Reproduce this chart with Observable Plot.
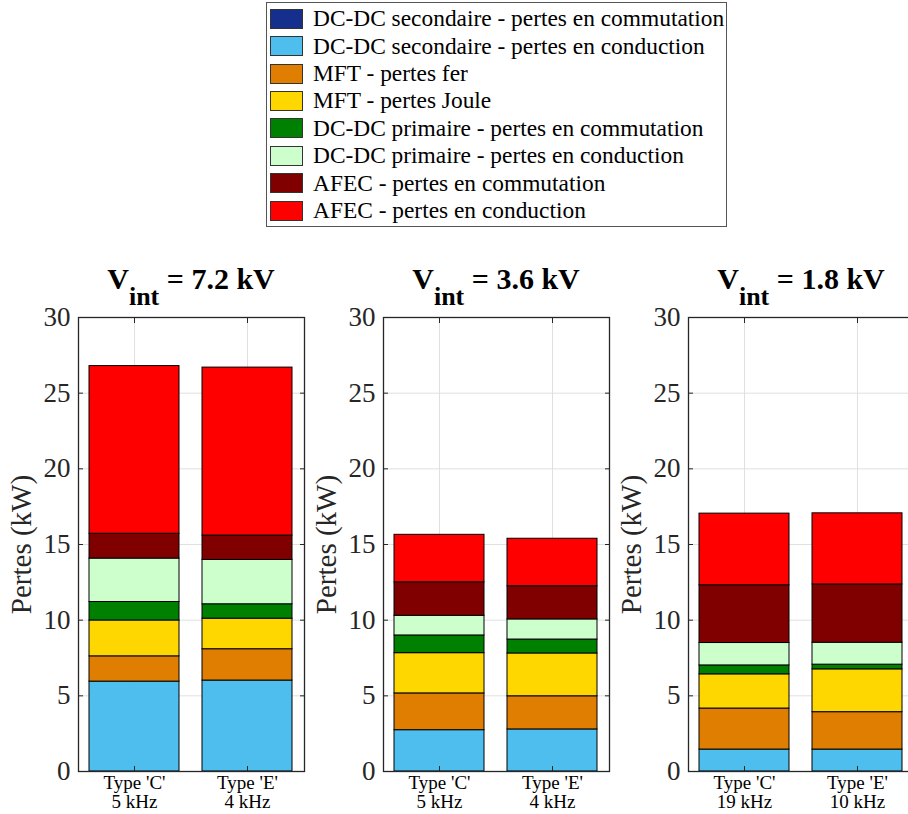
<!DOCTYPE html>
<html><head><meta charset="utf-8">
<script src="https://cdn.jsdelivr.net/npm/d3@7"></script>
<script src="https://cdn.jsdelivr.net/npm/@observablehq/plot@0.6"></script>
<style>
html,body{margin:0;padding:0;background:#fff;width:908px;height:814px;overflow:hidden;}
#root{position:relative;width:908px;height:814px;overflow:hidden;font-family:"Liberation Serif","Times New Roman",Times,"Nimbus Roman","DejaVu Serif",serif;}
.panel{position:absolute;top:300px;}
.title{position:absolute;top:264px;width:300px;text-align:center;font-weight:bold;font-size:30px;line-height:30px;color:#000;white-space:nowrap;}
.title sub{font-size:26px;vertical-align:-16px;line-height:0;}
#legend{position:absolute;left:266px;top:2px;width:459px;height:223px;border:1px solid #555;background:#fff;}
.sw{position:absolute;left:3px;width:31px;height:18px;border:1px solid #333;}
.lt{position:absolute;left:46px;font-size:23.4px;line-height:27px;height:27px;color:#000;white-space:nowrap;}
</style></head>
<body><div id="root"><div id="legend"></div></div>
<script>
const series = [
  "DC-DC secondaire - pertes en commutation",
  "DC-DC secondaire - pertes en conduction",
  "MFT - pertes fer",
  "MFT - pertes Joule",
  "DC-DC primaire - pertes en commutation",
  "DC-DC primaire - pertes en conduction",
  "AFEC - pertes en commutation",
  "AFEC - pertes en conduction"
];
const colors = ["#14308c","#4dbeee","#df7e00","#ffd700","#008000","#ccffcc","#800000","#ff0000"];
const titles = ["7.2 kV","3.6 kV","1.8 kV"];
const categories = [
  ["Type 'C'\n5 kHz","Type 'E'\n4 kHz"],
  ["Type 'C'\n5 kHz","Type 'E'\n4 kHz"],
  ["Type 'C'\n19 kHz","Type 'E'\n10 kHz"]
];
// values per series, order: [7.2C, 7.2E, 3.6C, 3.6E, 1.8C, 1.8E] (kW)
const secComm  = [0, 0, 0, 0, 0, 0];
const secCond  = [5.94, 6.01, 2.73, 2.78, 1.45, 1.45];
const mftFer   = [1.67, 2.07, 2.43, 2.19, 2.71, 2.47];
const mftJoule = [2.37, 2.02, 2.66, 2.83, 2.26, 2.83];
const primComm = [1.22, 0.95, 1.17, 0.92, 0.59, 0.31];
const primCond = [2.87, 2.93, 1.30, 1.33, 1.48, 1.45];
const afecComm = [1.64, 1.61, 2.21, 2.19, 3.82, 3.85];
const afecCond = [11.08, 11.10, 3.14, 3.14, 4.73, 4.70];
const values = [secComm, secCond, mftFer, mftJoule, primComm, primCond, afecComm, afecCond];
const yTicks = [0, 5, 10, 15, 20, 25, 30];
const yLabel = "Pertes (kW)";

const FONT = "'Liberation Serif', 'Times New Roman', Times, 'Nimbus Roman', 'DejaVu Serif', serif";
const root = document.getElementById("root");
const legend = document.getElementById("legend");
series.forEach((s, i) => {
  const c = 15.7 + 27.4 * i;
  const sw = document.createElement("div");
  sw.className = "sw"; sw.style.top = (c - 10) + "px"; sw.style.background = colors[i];
  const t = document.createElement("div");
  t.className = "lt"; t.style.top = (c - 13.5) + "px"; t.textContent = s;
  legend.appendChild(sw); legend.appendChild(t);
});

function panel(pi) {
  const cats = categories[pi];
  const data = [];
  for (let s = 0; s < series.length; s++)
    for (let b = 0; b < 2; b++)
      data.push({cat: cats[b], series: series[s], value: values[s][pi * 2 + b]});
  return Plot.plot({
    width: 310, height: 514,
    marginLeft: 78, marginRight: 6, marginTop: 17, marginBottom: 43,
    style: {fontFamily: FONT, color: "#262626", background: "transparent", overflow: "visible"},
    x: {domain: cats, paddingInner: 0.2, paddingOuter: 0.1, label: null},
    y: {domain: [0, 30], label: null},
    color: {domain: series, range: colors},
    marks: [
      Plot.gridY(yTicks.slice(1, -1), {stroke: "#e0e0e0", strokeOpacity: 1, strokeWidth: 1}),
      Plot.gridX(cats, {stroke: "#e0e0e0", strokeOpacity: 1, strokeWidth: 1}),
      Plot.barY(data, {x: "cat", y: "value", fill: "series", stroke: "#000", strokeWidth: 1}),
      Plot.axisY(yTicks, {anchor: "left", tickSize: -5, tickPadding: 13, fontSize: 27, tickFormat: d => String(d), label: null}),
      Plot.axisY(yTicks, {anchor: "right", tickSize: -5, tickFormat: () => "", label: null}),
      Plot.axisX(cats, {anchor: "bottom", tickSize: -5, tickPadding: 9, fontSize: 19, lineHeight: 1.0, label: null, fill: "#000"}),
      Plot.axisX(cats, {anchor: "top", tickSize: -5, tickFormat: () => "", label: null}),
      Plot.frame({stroke: "#262626", strokeWidth: 1.3}),
      Plot.text([yLabel], {frameAnchor: "left", textAnchor: "middle", rotate: -90, dx: -48, lineAnchor: "bottom", fontSize: 29, fill: "#262626", text: d => d})
    ]
  });
}

const lefts = [0, 305, 610];
lefts.forEach((l, pi) => {
  const p = panel(pi);
  p.classList.add("panel");
  p.style.left = l + "px";
  root.appendChild(p);
  const t = document.createElement("div");
  t.className = "title";
  t.style.left = (l + 78 + 113 - 150) + "px";
  t.innerHTML = "V<sub>int</sub> = " + titles[pi];
  root.appendChild(t);
});
</script></body></html>
